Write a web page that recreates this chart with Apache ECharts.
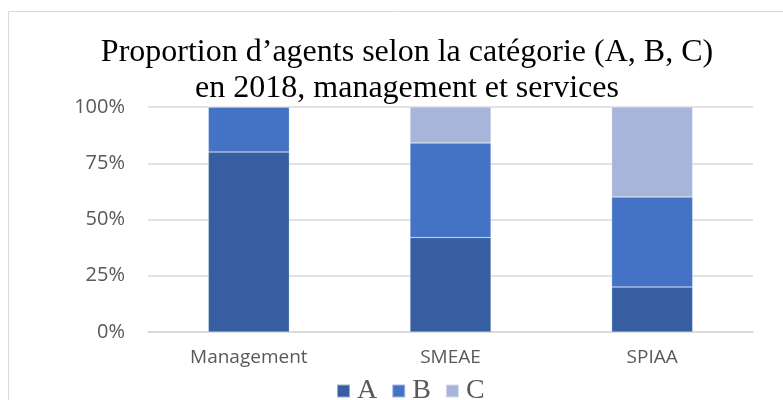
<!DOCTYPE html>
<html>
<head>
<meta charset="utf-8">
<script src="https://cdn.jsdelivr.net/npm/echarts@6/dist/echarts.min.js"></script>
<style>
  html, body { margin: 0; padding: 0; background: #fff; }
  #chart { width: 783px; height: 400px; }
</style>
</head>
<body>
<div id="chart"></div>
<script>
  // data
  var categories = ['Management', 'SMEAE', 'SPIAA'];
  var valuesA = [80, 42, 20];
  var valuesB = [20, 42, 40];
  var valuesC = [0, 16, 40];
  var seriesNames = ['A', 'B', 'C'];
  var colors = ['#365EA0', '#4472C4', '#A8B5DA'];

  var chart = echarts.init(document.getElementById('chart'));

  function makeSeries(name, data, color) {
    return {
      name: name,
      type: 'bar',
      stack: 'total',
      barWidth: 81,
      data: data,
      itemStyle: { color: color, borderColor: 'rgba(255,255,255,0.5)', borderWidth: 0.5 }
    };
  }

  chart.setOption({
    animation: false,
    color: colors,
    graphic: [{
      type: 'rect',
      left: 6, top: 9,
      shape: { width: 800, height: 420 },
      style: { fill: 'none', stroke: '#d9d9d9', lineWidth: 1 },
      silent: true
    }],
    title: {
      text: 'Proportion d\u2019agents selon la catégorie (A, B, C)\nen 2018, management et services',
      left: 402,
      top: 30,
      textAlign: 'center',
      textStyle: {
        fontFamily: 'Liberation Serif',
        fontSize: 32,
        fontWeight: 'normal',
        color: '#000',
        lineHeight: 36
      }
    },
    legend: {
      data: seriesNames,
      left: 331,
      top: 372,
      itemWidth: 13,
      itemHeight: 13,
      itemGap: 14,
      icon: 'rect',
      textStyle: { fontFamily: 'Liberation Serif', fontSize: 28, color: '#595959', padding: [0, 0, 0, 2] }
    },
    grid: { left: 148, right: 30, top: 107, bottom: 68 },
    xAxis: {
      type: 'category',
      data: categories,
      axisLine: { lineStyle: { color: '#d9d9d9', width: 1.5 } },
      axisTick: { show: false },
      axisLabel: { fontFamily: 'Open Sans', fontSize: 19, color: '#595959', margin: 16 }
    },
    yAxis: {
      type: 'value',
      min: 0,
      max: 100,
      interval: 25,
      axisLine: { show: false },
      axisTick: { show: false },
      splitLine: { lineStyle: { color: '#d9d9d9', width: 1.5 } },
      axisLabel: {
        fontFamily: 'Open Sans', fontSize: 20, color: '#595959', margin: 23,
        formatter: '{value}%'
      }
    },
    series: [
      makeSeries(seriesNames[0], valuesA, colors[0]),
      makeSeries(seriesNames[1], valuesB, colors[1]),
      makeSeries(seriesNames[2], valuesC, colors[2])
    ]
  });
</script>
</body>
</html>
